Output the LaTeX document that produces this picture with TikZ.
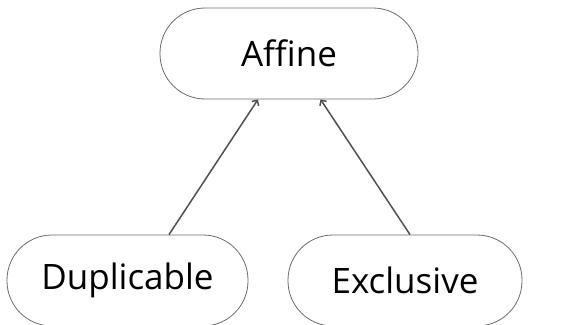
\documentclass[tikz,border=0pt]{standalone}
\usepackage{fontspec}
\setmainfont{Open Sans}
\usetikzlibrary{arrows.meta}
\definecolor{edgegray}{HTML}{505050}
\definecolor{bordergray}{HTML}{6A6A6A}
\begin{document}
\begin{tikzpicture}[x=1pt,y=-1pt,
  pill/.style={draw=bordergray, line width=0.8pt, rectangle, rounded corners=45pt,
    minimum height=91pt, inner sep=0pt, font=\fontsize{35}{40}\selectfont, text=black},
  link/.style={draw=edgegray, line width=1.5pt, -{Straight Barb[length=4pt,width=8pt]}}]
\useasboundingbox (0,0) rectangle (567,324);
\node[pill, minimum width=258pt] (aff) at (289,53.5) {Affine};
\node[pill, minimum width=241pt] (dup) at (127.5,280.5) {Duplicable};
\node[pill, minimum width=234pt] (exc) at (405,280.5) {Exclusive};
\draw[link] ([xshift=41.5pt]dup.north) -- ([xshift=-31pt]aff.south);
\draw[link] ([xshift=5pt]exc.north) -- ([xshift=31.5pt]aff.south);
\end{tikzpicture}
\end{document}
